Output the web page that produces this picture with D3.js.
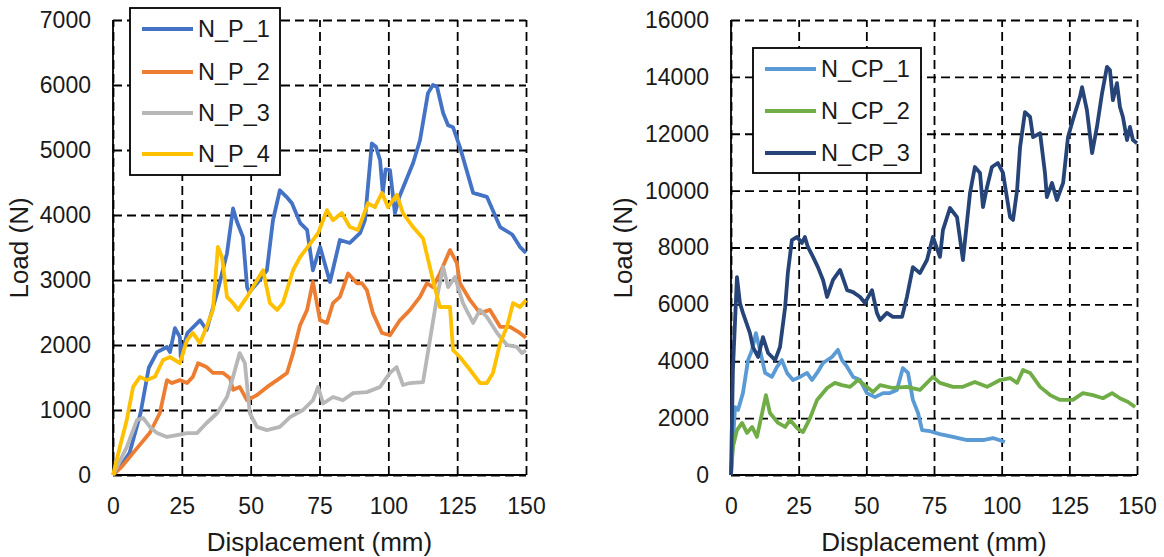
<!DOCTYPE html>
<html>
<head>
<meta charset="utf-8">
<script src="https://cdn.jsdelivr.net/npm/d3@7"></script>
<style>
  body { margin: 0; background: #fff; }
  svg { font-family: 'Liberation Sans', Arial, sans-serif; }
</style>
</head>
<body>
<svg id="chart" width="1164" height="557"></svg>
<script>
// displacement ticks shared by both panels
const xTicks = [0, 25, 50, 75, 100, 125, 150];
const yTicksP = [0, 1000, 2000, 3000, 4000, 5000, 6000, 7000];
const yTicksCP = [0, 2000, 4000, 6000, 8000, 10000, 12000, 14000, 16000];

const namesP = ['N_P_1', 'N_P_2', 'N_P_3', 'N_P_4'];
const namesCP = ['N_CP_1', 'N_CP_2', 'N_CP_3'];

// [displacement mm, load N]
const np1 = [[0,0],[3,150],[6,340],[10,950],[13,1650],[16,1890],[19.6,1970],[20.7,1890],[22.5,2260],[24.3,2120],[24.6,1815],[27,2185],[31.6,2380],[34,2230],[37.8,2800],[41.4,3410],[43.6,4100],[45,3900],[47.2,3660],[48.7,2890],[49.5,2815],[52.3,2950],[55.9,3150],[58.1,3920],[60.6,4380],[63,4280],[65,4180],[68,3875],[70.5,3770],[72.6,3150],[75.2,3510],[78.8,2970],[82.4,3615],[86,3570],[89.7,3720],[91.5,3920],[94,5100],[95.5,5050],[97,4845],[98,4340],[99,4700],[100.6,4690],[102.4,4030],[104,4280],[109,4800],[111.5,5150],[114.4,5875],[116.2,6000],[117.7,5970],[119.9,5570],[121.7,5380],[123.5,5350],[126,5045],[130.8,4340],[135.8,4280],[140.6,3815],[145,3700],[147.8,3510],[150,3415]];
const np2 = [[0,0],[3,120],[7.3,340],[13.4,650],[17,950],[19.6,1460],[21.4,1415],[24.3,1460],[26.9,1415],[29,1510],[30.9,1720],[34,1660],[36.3,1570],[40,1570],[42.5,1490],[43.6,1310],[46,1355],[48.7,1150],[52.3,1230],[56,1355],[59.6,1460],[63.2,1570],[65.4,1875],[67.9,2300],[70.5,2540],[72.6,2970],[75.2,2380],[77.7,2340],[79.9,2645],[82.4,2740],[85.4,3100],[88.6,2950],[90.4,2950],[92.2,2845],[94.4,2490],[97.7,2185],[100.6,2150],[104.2,2380],[107.9,2540],[111.5,2740],[114,2950],[116.2,2890],[118.7,3100],[122.4,3460],[124.9,3260],[126,2950],[129.7,2690],[133.3,2490],[136.9,2540],[140.6,2280],[144.2,2280],[147.8,2185],[150,2110]];
const np3 = [[0,0],[5,430],[8.7,846],[11,875],[13.4,740],[16,645],[19.6,585],[23.2,615],[26.9,645],[30.5,645],[34,800],[37.8,950],[41.4,1200],[43.6,1510],[46,1875],[47.9,1720],[49.7,950],[52.3,740],[55.9,690],[60.6,740],[64.3,890],[69,1000],[72.6,1150],[74.5,1355],[76.3,1100],[79.9,1200],[83.5,1150],[87.2,1260],[92.2,1275],[97,1355],[100.6,1570],[103,1660],[105.3,1385],[107.9,1415],[112.6,1430],[115.1,2075],[117.7,2740],[119.9,3200],[121.7,2890],[124.2,3045],[127.1,2645],[130.8,2340],[133.3,2540],[135.8,2430],[139.5,2185],[143.1,2000],[146.7,1970],[148.5,1875],[150,1920]];
const np4 = [[0,0],[2.5,430],[5,846],[7.3,1355],[9.8,1510],[12.3,1460],[15.2,1510],[18.2,1770],[20.7,1815],[24.3,1720],[26.9,2075],[29,2185],[31.6,2030],[34,2280],[36.3,2540],[38.1,3510],[39.6,3350],[41.4,2740],[43.6,2645],[45.4,2540],[48.7,2740],[50.8,2890],[54.5,3150],[57,2645],[59.6,2540],[61.7,2645],[65.4,3150],[67.9,3350],[72.6,3615],[74.5,3720],[77.7,4075],[79.9,3920],[83.1,4030],[86,3815],[89,3770],[92.6,4180],[95.1,4120],[97.7,4340],[99.9,4120],[103.1,4310],[105.3,4030],[109,3815],[112.6,3640],[116.2,3000],[118.7,2585],[122.4,2585],[123.5,1920],[126,1815],[129.7,1615],[133.3,1415],[135.8,1415],[138,1570],[140.6,2030],[143.1,2280],[145.3,2645],[147.8,2585],[150,2690]];

const ncp1 = [[0,0],[1.5,2390],[2.6,2290],[4.4,2880],[6.3,4040],[7.8,4400],[9.2,4990],[10.7,4400],[12.6,3590],[15.1,3450],[17,3800],[18.8,4040],[20.7,3590],[22.9,3340],[25.5,3450],[28.1,3590],[29.9,3340],[31.8,3590],[34,3940],[37.3,4150],[39.5,4400],[41,4040],[42.9,3800],[45.1,3450],[47.7,3340],[50.2,2880],[53.2,2740],[56.2,2880],[58.7,2880],[61.3,2990],[63.5,3760],[65.4,3590],[67.2,2640],[69.1,2180],[70.6,1580],[73.5,1540],[77.2,1440],[82,1340],[87.2,1230],[93.1,1230],[96.8,1300],[101.2,1160]];
const ncp2 = [[0,0],[0.7,980],[2.2,1580],[4.1,1830],[5.9,1480],[7.8,1690],[9.6,1340],[11.5,2180],[12.9,2810],[14.4,2180],[17.4,1830],[20,1690],[21.8,1930],[24.4,1650],[26.6,1510],[29.2,2000],[31.8,2640],[35.5,3060],[38.4,3240],[41,3160],[44,3100],[46.9,3340],[50.2,3100],[52.5,2920],[55.1,3160],[59.8,3060],[65,3100],[69.8,2990],[74.6,3450],[77.2,3240],[82,3100],[85.7,3100],[90.1,3270],[94.6,3100],[99.4,3340],[103.1,3410],[105.7,3240],[107.9,3690],[110.5,3590],[114.2,3100],[117.9,2810],[121.6,2640],[126.3,2640],[130,2880],[133.7,2810],[137.4,2700],[140.8,2880],[143.7,2700],[146.7,2570],[149.3,2390]];
const ncp3 = [[0,0],[0.7,3690],[2.2,6960],[3.3,6050],[4.4,5700],[7,4990],[8.1,4500],[10,4150],[11.8,4850],[13.7,4290],[16.3,4040],[18.1,4500],[20,5900],[21,7100],[22.5,8260],[24.4,8370],[26.2,8160],[27.3,8370],[28.4,8020],[30.3,7670],[32.1,7310],[34,6860],[35.5,6260],[37.7,6860],[40.3,7210],[42.9,6500],[45.1,6430],[47.7,6260],[49.5,6050],[52.1,6500],[53.9,5700],[55.1,5450],[57.6,5700],[59.8,5560],[63.2,5560],[65,6260],[67.2,7310],[69.8,7100],[72.4,7560],[74.6,8370],[77.2,7670],[78.3,8610],[80.9,9390],[83.5,9070],[85.7,7560],[88.3,9910],[90.1,10830],[92,10620],[93.1,9420],[94.6,10130],[96.4,10830],[98.6,10970],[100.5,10620],[103.1,9070],[104.2,8970],[105.7,10020],[106.8,11530],[108.6,12760],[110.5,12590],[111.6,11880],[114.2,12020],[116,10620],[116.7,9770],[118.6,10270],[120.4,9670],[122.7,10270],[124.5,11880],[126.3,12480],[128.9,13290],[129.7,13640],[131.5,12830],[133.4,11320],[135.2,12240],[137.1,13430],[138.9,14350],[140,14240],[141.1,13180],[142.6,13780],[143.7,12940],[144.8,12590],[146.3,11780],[147.4,12240],[148.5,11780],[150,11670]];

const svg = d3.select('#chart');

function drawPanel(p) {
    const x = d3.scaleLinear().domain([0, 150]).range([p.left, p.right]);
    const y = d3.scaleLinear().domain([0, p.yMax]).range([475, 20]);
    const g = svg.append('g');

    // dashed grid
    g.append('g')
        .attr('transform', 'translate(' + p.left + ',0)')
        .call(d3.axisLeft(y).tickValues(p.yTicks).tickSize(-(p.right - p.left)).tickFormat(''))
        .call(s => s.select('.domain').remove())
        .selectAll('line').attr('stroke', '#000').attr('stroke-width', 1.8).attr('stroke-dasharray', '9,5');
    g.append('g')
        .attr('transform', 'translate(0,475)')
        .call(d3.axisBottom(x).tickValues(xTicks).tickSize(-455).tickFormat(''))
        .call(s => s.select('.domain').remove())
        .selectAll('line').attr('stroke', '#000').attr('stroke-width', 1.8).attr('stroke-dasharray', '9,5');

    // solid axis lines
    g.append('line').attr('x1', p.left).attr('x2', p.left).attr('y1', 20).attr('y2', 475)
        .attr('stroke', '#000').attr('stroke-width', 1.8);
    g.append('line').attr('x1', p.left).attr('x2', p.right).attr('y1', 475).attr('y2', 475)
        .attr('stroke', '#000').attr('stroke-width', 1.8);

    // tick labels
    g.append('g')
        .attr('transform', 'translate(' + p.left + ',0)')
        .call(d3.axisLeft(y).tickValues(p.yTicks).tickFormat(d3.format('d')).tickSize(0).tickPadding(22))
        .call(s => s.select('.domain').remove())
        .selectAll('text').style('font-size', '23px').attr('fill', '#1a1a1a')
        .style('font-family', "'Liberation Sans', Arial, sans-serif");
    g.append('g')
        .attr('transform', 'translate(0,475)')
        .call(d3.axisBottom(x).tickValues(xTicks).tickFormat(d3.format('d')).tickSize(0).tickPadding(23))
        .call(s => s.select('.domain').remove())
        .selectAll('text').style('font-size', '23px').attr('fill', '#1a1a1a')
        .style('font-family', "'Liberation Sans', Arial, sans-serif");

    // series
    const line = d3.line().x(d => x(d[0])).y(d => y(d[1]));
    p.series.forEach((s, i) => {
        g.append('path').datum(s)
            .attr('d', line)
            .attr('fill', 'none')
            .attr('stroke', p.colors[i])
            .attr('stroke-width', 3.8)
            .attr('stroke-linejoin', 'round');
    });

    // axis titles
    g.append('text')
        .attr('transform', 'rotate(-90)')
        .attr('x', -248).attr('y', p.titleY)
        .style('text-anchor', 'middle').style('font-size', '26px').attr('fill', '#1a1a1a')
        .text('Load (N)');
    g.append('text')
        .attr('x', (p.left + p.right) / 2).attr('y', 551)
        .style('text-anchor', 'middle').style('font-size', '26px').attr('fill', '#1a1a1a')
        .text('Displacement (mm)');

    // legend
    const lg = p.legend;
    g.append('rect')
        .attr('x', lg.x).attr('y', lg.y).attr('width', lg.w).attr('height', lg.h)
        .attr('fill', '#fff').attr('stroke', '#000').attr('stroke-width', 1.8);
    p.names.forEach((n, i) => {
        const ly = lg.rows[i];
        g.append('line')
            .attr('x1', lg.x + 12).attr('x2', lg.x + 63).attr('y1', ly).attr('y2', ly)
            .attr('stroke', p.colors[i]).attr('stroke-width', 3.8);
        g.append('text')
            .attr('x', lg.x + 68).attr('y', ly).attr('dy', '0.35em')
            .style('font-size', '23.5px').attr('fill', '#1a1a1a')
            .text(n);
    });
}

drawPanel({
    left: 113, right: 526, yMax: 7000, yTicks: yTicksP, titleY: 28,
    series: [np1, np2, np3, np4], names: namesP,
    colors: ['#4472C4', '#ED7D31', '#B7B7B7', '#FFC000'],
    legend: {x: 130, y: 8, w: 150, h: 167, rows: [29, 72, 113, 154]}
});

drawPanel({
    left: 731, right: 1137, yMax: 16000, yTicks: yTicksCP, titleY: 632,
    series: [ncp1, ncp2, ncp3], names: namesCP,
    colors: ['#5B9BD5', '#70AD47', '#264478'],
    legend: {x: 753, y: 48, w: 168, h: 125, rows: [69, 111, 153]}
});
</script>
</body>
</html>
